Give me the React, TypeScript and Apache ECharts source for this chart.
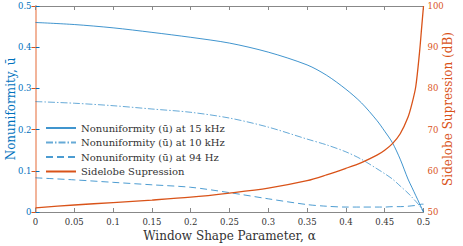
import React, { useEffect, useRef } from "react";
import * as echarts from "echarts";

const alpha = [0, 0.05, 0.1, 0.15, 0.2, 0.25, 0.3, 0.35, 0.375, 0.4, 0.42, 0.44, 0.45, 0.46, 0.47, 0.48, 0.485, 0.49, 0.495, 0.4975, 0.5];
const nu15k = [0.46, 0.455, 0.447, 0.436, 0.424, 0.41, 0.388, 0.357, 0.332, 0.298, 0.265, 0.222, 0.196, 0.168, 0.128, 0.08, 0.06, 0.04, 0.02, 0.01, 0];
const nu10k = [0.268, 0.264, 0.258, 0.25, 0.242, 0.228, 0.206, 0.177, 0.163, 0.146, 0.128, 0.105, 0.093, 0.08, 0.063, 0.046, 0.036, 0.026, 0.015, 0.008, 0];
const nu94 = [0.083, 0.078, 0.072, 0.066, 0.06, 0.047, 0.032, 0.018, 0.014, 0.012, 0.012, 0.012, 0.012, 0.013, 0.013, 0.014, 0.015, 0.016, 0.018, 0.019, 0.019];
const sidelobe = [51.0, 51.7, 52.3, 52.9, 53.6, 54.6, 55.8, 57.6, 59.0, 60.6, 62.0, 63.8, 65.0, 66.6, 69.0, 73.0, 76.2, 80.4, 89.0, 94.5, 100];

const names = [
  "Nonuniformity (ū) at 15 kHz",
  "Nonuniformity (ū) at 10 kHz",
  "Nonuniformity (ū) at 94 Hz",
  "Sidelobe Supression",
];

const BLUE = "#0072BD";
const ORANGE = "#D95319";
const FONT = "DejaVu Serif";
const TEXT = "#333";

const pairs = (ys: number[]) => alpha.map((a, i) => [a, ys[i]]);

export default function App() {
  const ref = useRef<HTMLDivElement>(null);
  useEffect(() => {
    if (!ref.current) return;
    const chart = echarts.init(ref.current, null, { renderer: "svg" });
    chart.setOption({
      animation: false,
      textStyle: { fontFamily: FONT },
      grid: { left: 35.5, right: 39.5, top: 6, bottom: 34, containLabel: false, outerBoundsMode: "none" },
      legend: {
        orient: "vertical",
        left: 40,
        top: 118,
        itemWidth: 30,
        itemHeight: 10,
        itemGap: 4.5,
        itemStyle: { opacity: 0 },
        textStyle: { fontFamily: FONT, fontSize: 10, color: TEXT },
        data: names,
      },
      xAxis: [
        {
          type: "value",
          min: 0,
          max: 0.5,
          interval: 0.05,
          name: "Window Shape Parameter, α",
          nameLocation: "middle",
          nameGap: 18,
          nameMoveOverlap: false,
          nameTextStyle: { fontFamily: FONT, fontSize: 12, color: TEXT },
          axisLine: { lineStyle: { color: "#888", width: 1 } },
          axisTick: { inside: true, length: 4, lineStyle: { color: "#888" } },
          axisLabel: { fontFamily: FONT, fontSize: 8.5, color: TEXT, margin: 5 },
          splitLine: { show: false },
        },
        {
          type: "value",
          position: "top",
          min: 0,
          max: 0.5,
          interval: 0.05,
          axisLine: { show: true, lineStyle: { color: "#888", width: 1 } },
          axisTick: { inside: true, length: 4, lineStyle: { color: "#888" } },
          axisLabel: { show: false },
          splitLine: { show: false },
        },
      ],
      yAxis: [
        {
          type: "value",
          min: 0,
          max: 0.5,
          interval: 0.1,
          position: "left",
          name: "Nonuniformity, ū",
          nameLocation: "middle",
          nameGap: 19,
          nameMoveOverlap: false,
          nameTextStyle: { fontFamily: FONT, fontSize: 12, color: BLUE },
          axisLine: { show: true, lineStyle: { color: BLUE, width: 1 } },
          axisTick: { show: true, inside: true, length: 4, lineStyle: { color: BLUE } },
          axisLabel: { fontFamily: FONT, fontSize: 8.5, color: BLUE, margin: 4 },
          splitLine: { show: false },
        },
        {
          type: "value",
          min: 50,
          max: 100,
          interval: 10,
          position: "right",
          name: "Sidelobe Supression (dB)",
          nameLocation: "middle",
          nameGap: 18,
          nameRotate: 90,
          nameMoveOverlap: false,
          nameTextStyle: { fontFamily: FONT, fontSize: 12, color: ORANGE },
          axisLine: { show: true, lineStyle: { color: "#F2B49A", width: 2 } },
          axisTick: { show: true, inside: true, length: 4, lineStyle: { color: ORANGE } },
          axisLabel: { fontFamily: FONT, fontSize: 8.5, color: ORANGE, margin: 4 },
          splitLine: { show: false },
        },
      ],
      series: [
        {
          name: names[0],
          type: "line",
          yAxisIndex: 0,
          data: pairs(nu15k),
          showSymbol: false,
          symbol: "none",
          smooth: 0.3,
          lineStyle: { color: BLUE, width: 1, opacity: 0.75 },
          itemStyle: { color: BLUE },
        },
        {
          name: names[1],
          type: "line",
          yAxisIndex: 0,
          data: pairs(nu10k),
          showSymbol: false,
          symbol: "none",
          smooth: 0.3,
          lineStyle: { color: BLUE, width: 1, opacity: 0.6, type: [7, 2, 1.5, 2] },
          itemStyle: { color: BLUE },
        },
        {
          name: names[2],
          type: "line",
          yAxisIndex: 0,
          data: pairs(nu94),
          showSymbol: false,
          symbol: "none",
          smooth: 0.3,
          lineStyle: { color: BLUE, width: 1, opacity: 0.7, type: [7, 4] },
          itemStyle: { color: BLUE },
        },
        {
          name: names[3],
          type: "line",
          yAxisIndex: 1,
          data: pairs(sidelobe),
          showSymbol: false,
          symbol: "none",
          smooth: 0.3,
          lineStyle: { color: ORANGE, width: 1.3 },
          itemStyle: { color: ORANGE },
        },
      ],
    });
    return () => chart.dispose();
  }, []);
  return (
    <div
      ref={ref}
      style={{ position: "fixed", left: 0, top: 0, width: 463, height: 246, background: "#fff" }}
    />
  );
}
